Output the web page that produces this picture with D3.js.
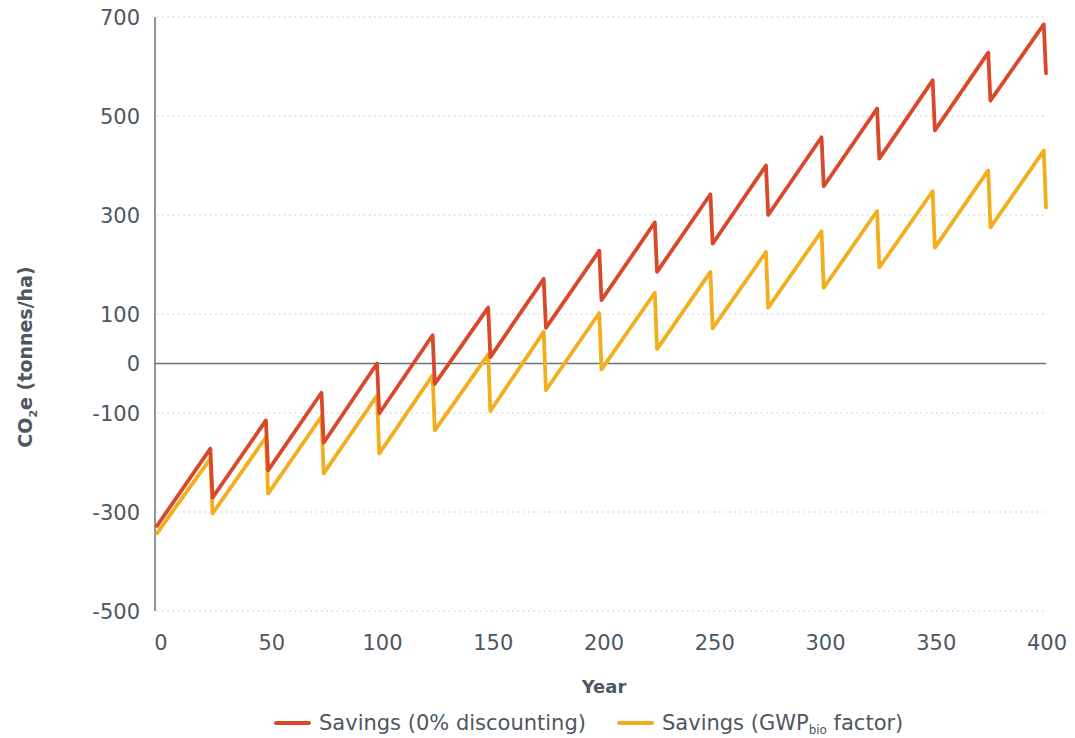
<!DOCTYPE html>
<html>
<head>
<meta charset="utf-8">
<script src="https://cdn.jsdelivr.net/npm/d3@7"></script>
<style>
	body { margin: 0; background: #fff; }
	text { font-family: "DejaVu Sans", sans-serif; fill: #4d5762; }
</style>
</head>
<body>
<svg id="chart" width="1075" height="738"></svg>
<script>
// years: each rotation peaks the year before harvest, then drops
var years = [0];
for (var k = 1; k <= 16; k++) { years.push(25 * k - 1, 25 * k); }

var savingsNoDiscount = [-328,
	-172, -271, -115, -216, -59, -160, 0, -101, 57, -41,
	113, 13, 171, 72, 228, 128, 285, 185, 342, 242,
	400, 300, 457, 358, 515, 414, 572, 471, 628, 531,
	685, 586];

var savingsGwpBio = [-343,
	-192, -303, -149, -263, -107, -222, -65, -182, -24, -135,
	18, -96, 64, -54, 102, -12, 143, 29, 185, 71,
	225, 113, 267, 153, 308, 194, 348, 234, 390, 275,
	430, 315];

var xTicks = [0, 50, 100, 150, 200, 250, 300, 350, 400];
var yTicks = [-500, -300, -100, 0, 100, 300, 500, 700];

var series = [
	{ name: "Savings (0% discounting)", values: savingsNoDiscount, color: "#d9482b" },
	{ name: "Savings (GWP", sub: "bio", after: " factor)", values: savingsGwpBio, color: "#f2ae1c" }
];

var svg = d3.select("#chart");

var x = d3.scaleLinear().domain([0, 400]).range([157, 1046]);
var y = d3.scaleLinear().domain([-500, 700]).range([611, 17]);

// grid
svg.append("g").selectAll("line")
	.data(yTicks.filter(function(d) { return d !== 0; }))
	.enter().append("line")
		.attr("x1", x(0)).attr("x2", x(400))
		.attr("y1", function(d) { return y(d); })
		.attr("y2", function(d) { return y(d); })
		.style("stroke", "#cfd2d4")
		.style("stroke-width", 1.3)
		.style("stroke-dasharray", "1.3,4");

// zero line
svg.append("line")
	.attr("x1", 155).attr("x2", x(400))
	.attr("y1", y(0)).attr("y2", y(0))
	.style("stroke", "#66727c")
	.style("stroke-width", 1.5);

// y axis line
svg.append("line")
	.attr("x1", 155).attr("x2", 155)
	.attr("y1", y(700)).attr("y2", y(-500))
	.style("stroke", "#66727c")
	.style("stroke-width", 1.5);

// y tick labels
svg.append("g").selectAll("text")
	.data(yTicks)
	.enter().append("text")
		.attr("x", 140)
		.attr("y", function(d) { return y(d); })
		.attr("dy", "0.36em")
		.attr("text-anchor", "end")
		.style("font-size", "21px")
		.text(function(d) { return d; });

// x tick labels
svg.append("g").selectAll("text")
	.data(xTicks)
	.enter().append("text")
		.attr("x", function(d) { return x(d) + 4 - d / 400 * 3; })
		.attr("y", 650)
		.attr("text-anchor", "middle")
		.style("font-size", "21px")
		.text(function(d) { return d; });

// axis titles
svg.append("text")
	.attr("x", 604).attr("y", 693)
	.attr("text-anchor", "middle")
	.style("font-size", "18px")
	.style("font-weight", "bold")
	.text("Year");

var yTitle = svg.append("text")
	.attr("transform", "translate(32, 357) rotate(-90)")
	.attr("text-anchor", "middle")
	.style("font-size", "19px")
	.style("font-weight", "bold");
yTitle.append("tspan").text("CO");
yTitle.append("tspan").attr("dy", 5).style("font-size", "11px").text("2");
yTitle.append("tspan").attr("dy", -5).text("e (tonnes/ha)");

// lines
var line = d3.line()
	.x(function(d, i) { return x(years[i]); })
	.y(function(d) { return y(d); });

svg.append("g").selectAll("path")
	.data(series.slice().reverse())
	.enter().append("path")
		.attr("d", function(d) { return line(d.values); })
		.style("fill", "none")
		.style("stroke", function(d) { return d.color; })
		.style("stroke-width", 3.8)
		.style("stroke-linejoin", "round")
		.style("stroke-linecap", "round");

// legend
var legendX = [275, 618];
var legend = svg.append("g").selectAll("g")
	.data(series)
	.enter().append("g")
		.attr("transform", function(d, i) { return "translate(" + legendX[i] + ", 723)"; });

legend.append("line")
	.attr("x1", 1).attr("x2", 34)
	.style("stroke", function(d) { return d.color; })
	.style("stroke-width", 4)
	.style("stroke-linecap", "round");

var legendText = legend.append("text")
	.attr("x", 44)
	.attr("y", 7)
	.style("font-size", "21px");
legendText.append("tspan").text(function(d) { return d.name; });
legendText.filter(function(d) { return d.sub; })
	.each(function(d) {
		var t = d3.select(this);
		t.append("tspan").attr("dy", 4).style("font-size", "12px").text(d.sub);
		t.append("tspan").attr("dy", -4).text(d.after);
	});
</script>
</body>
</html>
